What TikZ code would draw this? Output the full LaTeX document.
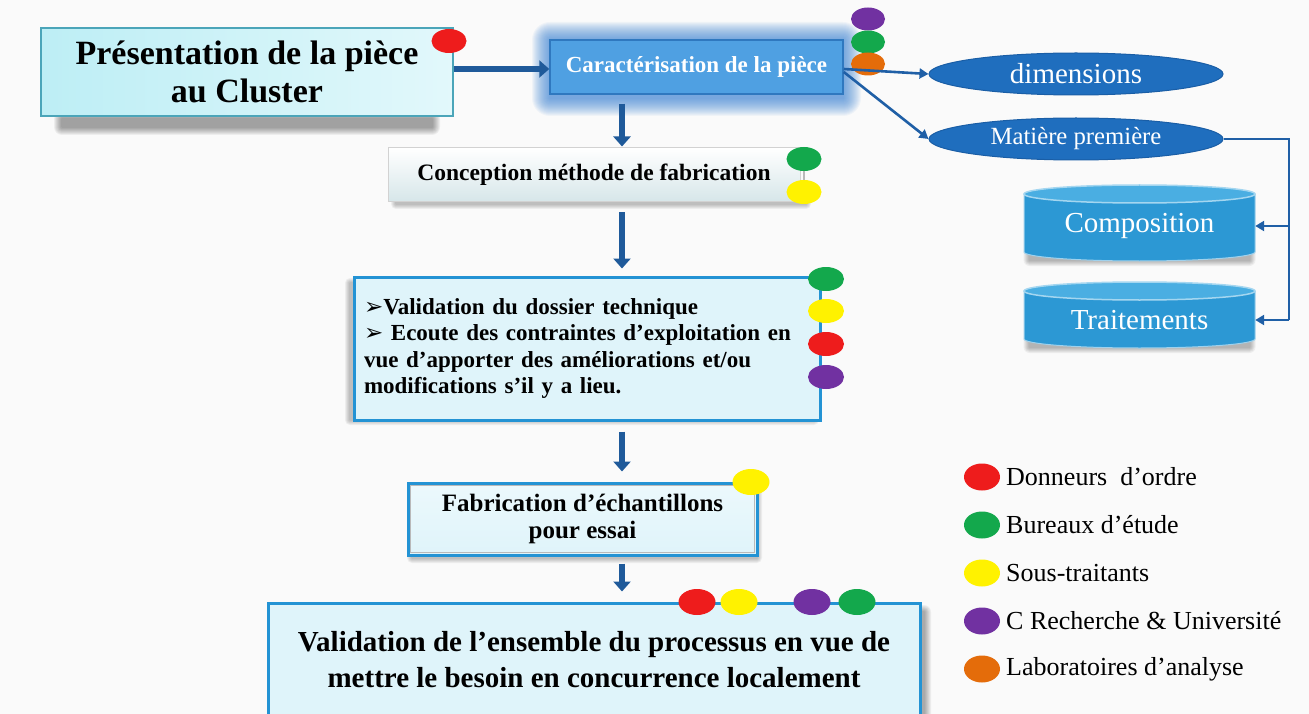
\documentclass[tikz,border=0pt]{standalone}
\usepackage{fontspec}
\setmainfont{Liberation Serif}
\newfontfamily\symfont{DejaVu Sans}
\usetikzlibrary{shapes.geometric,arrows.meta,calc}

\definecolor{bgc}{HTML}{FAFAFA}
\definecolor{arrowblue}{HTML}{1F5A9A}
\definecolor{linkblue}{HTML}{1F5FA6}
\definecolor{boxteal}{HTML}{4BA5B9}
\definecolor{cyanL}{HTML}{BDEEF5}
\definecolor{cyanR}{HTML}{E2F8FB}
\definecolor{carfill}{HTML}{4FA0E2}
\definecolor{carline}{HTML}{2F78BF}
\definecolor{glow}{HTML}{3F86D6}
\definecolor{ellfill}{HTML}{1F6EBE}
\definecolor{ellline}{HTML}{1A5EA6}
\definecolor{cylfill}{HTML}{2C98D4}
\definecolor{cyltop}{HTML}{4AAEE2}
\definecolor{frameblue}{HTML}{2393D4}
\definecolor{lightfill}{HTML}{DFF4FA}
\definecolor{concbot}{HTML}{D6E6E9}
\definecolor{dred}{HTML}{EE1C1C}
\definecolor{dgreen}{HTML}{13A84C}
\definecolor{dyellow}{HTML}{FFF200}
\definecolor{dpurple}{HTML}{7131A1}
\definecolor{dorange}{HTML}{E46C0A}

\newcommand{\softshade}[6]{% colour, layers, x1, y1, x2, y2
  \foreach \k in {1,...,#2}{\fill[#1,opacity=0.05,rounded corners=\k pt] (#3-\k,#4-\k) rectangle (#5+\k,#6+\k);}}

\newcommand{\drawcyl}[3]{% cx, ytop, ybot
  \softshade{black}{6}{#1-110}{#3}{#1+110}{#3+8}
  \fill[cylfill] (#1-115.5,#2) -- (#1-115.5,#3) arc[start angle=180,end angle=0,x radius=115.5,y radius=9] -- (#1+115.5,#2) -- cycle;
  \draw[white!55!cylfill,line width=1pt] (#1-115.5,#2) -- (#1-115.5,#3) arc[start angle=180,end angle=0,x radius=115.5,y radius=9] -- (#1+115.5,#2);
  \draw[fill=cyltop,draw=white!50!cyltop,line width=1.5pt] (#1,#2) ellipse [x radius=115.5,y radius=9];}

\begin{document}
\begin{tikzpicture}[x=1pt,y=-1pt,
  dot/.style={ellipse,inner sep=0pt,minimum width=35pt,minimum height=24pt},
  flowarrow/.style={draw=arrowblue,line width=6.5pt,-{Triangle[length=10pt,width=17pt]}},
  linkline/.style={draw=linkblue,line width=2.6pt},
  linkarrow/.style={linkline,-{Triangle[length=9pt,width=10pt]}},
  presbox/.style={draw=boxteal,line width=1.8pt,left color=cyanL,right color=cyanR,
    minimum width=412pt,minimum height=88pt,align=center,inner sep=0pt,
    font=\bfseries\fontsize{34}{38}\selectfont},
  carbox/.style={fill=carfill,draw=carline,line width=1.5pt,text=white,
    minimum width=293pt,minimum height=54pt,inner sep=0pt,
    font=\bfseries\fontsize{23}{25}\selectfont},
  ellnode/.style={ellipse,fill=ellfill,draw=ellline,line width=1pt,text=white,
    minimum width=294pt,minimum height=42pt,inner sep=0pt},
  cyltext/.style={text=white,font=\fontsize{29}{30}\selectfont,minimum width=231pt,
    minimum height=50pt,inner sep=0pt},
  concbox/.style={top color=white,bottom color=concbot,draw=gray!35,line width=1pt,
    minimum width=412pt,minimum height=54pt,inner sep=0pt,
    font=\bfseries\fontsize{23.5}{25}\selectfont},
  framebox/.style={fill=lightfill,draw=frameblue,line width=3pt,inner sep=0pt},
  legtext/.style={anchor=west,inner sep=0pt,font=\fontsize{26}{28}\selectfont}]

\useasboundingbox (0,0) rectangle (1309,714);
\clip (0,0) rectangle (1309,714);
\fill[bgc] (0,0) rectangle (1309,714);

% ---- shadows and glow
\softshade{black}{8}{62}{119}{432}{127}
\foreach \k in {1,...,18}{\fill[glow,opacity=0.06,rounded corners=\k pt] (550-\k,40-\k) rectangle (843+\k,98+\k);}
\softshade{black}{5}{396}{200}{806}{204}
\softshade{black}{5}{350}{283}{814}{420}
\softshade{black}{5}{412}{488}{757}{558}
\softshade{black}{7}{300}{612}{924}{716}

% ---- top row
\node[presbox] (pres) at (247,72) {Présentation de la pièce\\au Cluster};
\node[dot,fill=dred] (r1) at (449,41) {};
\node[carbox] (car) at (696.5,67) {Caractérisation de la pièce};
\node[dot,fill=dpurple,minimum width=34pt,minimum height=23pt] (cp) at (868,19) {};
\node[dot,fill=dgreen,minimum width=34pt,minimum height=23pt] (cg) at (868,42) {};
\node[dot,fill=dorange,minimum width=34pt,minimum height=23pt] (co) at (868,64) {};

\coordinate (pe) at ($(pres.east)+(0,-3)$);
\draw[flowarrow] (pe) -- (pe -| car.west);

% ---- right branch
\node[ellnode,font=\fontsize{29}{30}\selectfont] (dim) at (1076,74) {dimensions};
\node[ellnode,font=\fontsize{24.7}{26}\selectfont] (mat) at (1076,139) {Matière première};
\draw[linkarrow] ($(car.east)+(0,2)$) -- (dim.west);
\draw[linkarrow] ($(car.east)+(0,5)$) -- (mat.west);

\drawcyl{1139.5}{194}{252}
\drawcyl{1139.5}{291}{339}
\node[cyltext] (comp) at (1139.5,226) {Composition};
\node[cyltext] (trt) at (1139.5,320) {Traitements};

\coordinate (bus) at (1289,139);
\draw[linkline] (mat.east) -- (bus) -- (bus |- trt.east);
\draw[linkarrow] (bus |- comp.east) -- (comp.east);
\draw[linkarrow] (bus |- trt.east) -- (trt.east);

% ---- main column
\coordinate (ax) at (622,0);
\node[concbox] (conc) at (594,175) {Conception méthode de fabrication};
\node[dot,fill=dgreen] (kg) at (804,159) {};
\node[dot,fill=dyellow] (ky) at (804,192) {};
\draw[gray!55,line width=1.2pt] (kg) -- (ky);

\node[framebox,minimum width=466pt,minimum height=143pt,align=left,text width=446pt,
  font=\bfseries\fontsize{23}{26.5}\selectfont] (val) at (587,348.5)
  {{\symfont ➢}Validation du dossier technique\\
   {\symfont ➢} Ecoute des contraintes d'exploitation en\\
   vue d'apporter des améliorations et/ou\\
   modifications s'il y a lieu.};
\node[dot,fill=dgreen,minimum width=36pt] (vg) at (826,279) {};
\node[dot,fill=dyellow,minimum width=36pt] (vy) at (826,311) {};
\node[dot,fill=dred,minimum width=36pt] (vr) at (826,344) {};
\node[dot,fill=dpurple,minimum width=36pt] (vp) at (826,377) {};

\node[framebox,top color=white!40!lightfill,bottom color=lightfill,minimum width=349pt,minimum height=72pt,align=center,
  font=\bfseries\fontsize{25}{27}\selectfont] (fab) at (582.5,519)
  {Fabrication d’échantillons\\pour essai};
\draw[gray!55,line width=1pt] ($(fab.south west)+(4,-4)$) rectangle ($(fab.north east)+(-4,4)$);
\node[dot,fill=dyellow,minimum width=37pt,minimum height=26pt] (fy) at (751,482) {};

\node[framebox,minimum width=652pt,minimum height=114pt,align=center,
  font=\bfseries\fontsize{29}{36}\selectfont] (fin) at (594,660)
  {Validation de l’ensemble du processus en vue de\\mettre le besoin en concurrence localement};
\node[dot,fill=dred,minimum width=37pt,minimum height=26pt] (nr) at (697,602) {};
\node[dot,fill=dyellow,minimum width=37pt,minimum height=26pt] (ny) at (739,602) {};
\node[dot,fill=dpurple,minimum width=37pt,minimum height=26pt] (np) at (812,602) {};
\node[dot,fill=dgreen,minimum width=37pt,minimum height=26pt] (ng) at (857,602) {};

\draw[flowarrow,shorten <=9pt,shorten >=1pt] (car.south -| ax) -- (conc.north -| ax);
\draw[flowarrow,shorten <=10pt,shorten >=7pt] (conc.south -| ax) -- (val.north -| ax);
\draw[flowarrow,shorten <=10pt,shorten >=10pt] (val.south -| ax) -- (fab.north -| ax);
\draw[flowarrow,shorten <=7pt,shorten >=10pt] (fab.south -| ax) -- (fin.north -| ax);

% ---- legend
\node[dot,fill=dred,minimum width=36pt,minimum height=27pt] (l1) at (982,477) {};
\node[dot,fill=dgreen,minimum width=36pt,minimum height=27pt] (l2) at (982,525) {};
\node[dot,fill=dyellow,minimum width=36pt,minimum height=27pt] (l3) at (982,573) {};
\node[dot,fill=dpurple,minimum width=36pt,minimum height=27pt] (l4) at (982,621) {};
\node[dot,fill=dorange,minimum width=36pt,minimum height=27pt] (l5) at (982,669) {};
\node[legtext] (t1) at (1006,477) {Donneurs~ d’ordre};
\node[legtext] (t2) at (1006,525) {Bureaux d’étude};
\node[legtext] (t3) at (1006,573) {Sous-traitants};
\node[legtext] (t4) at (1006,621) {C Recherche \& Université};
\node[legtext] (t5) at (1006,669) {Laboratoires d’analyse};
\end{tikzpicture}
\end{document}
